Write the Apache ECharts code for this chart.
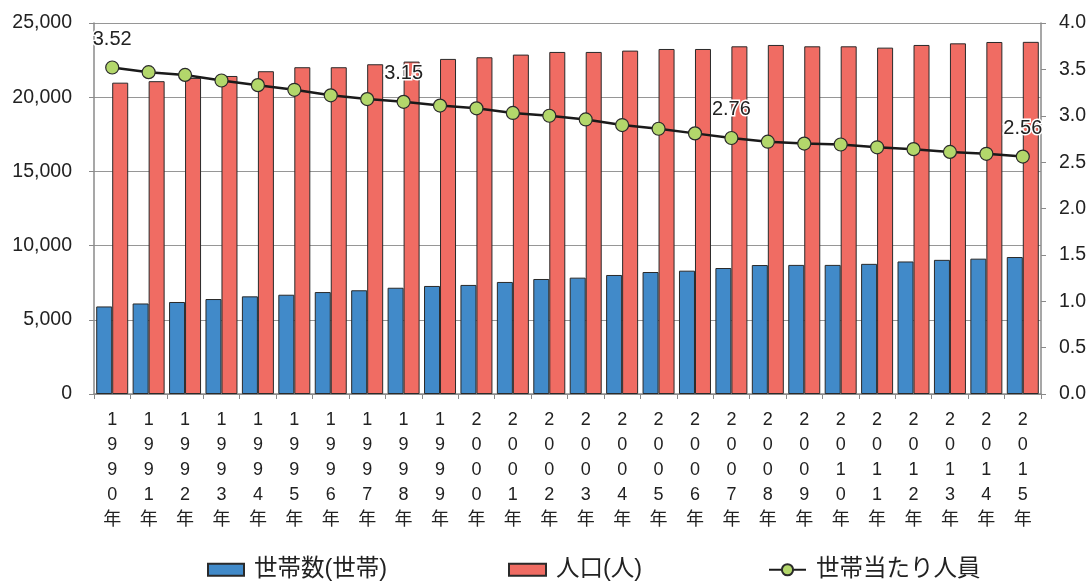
<!DOCTYPE html>
<html>
<head>
<meta charset="utf-8">
<script src="https://cdn.jsdelivr.net/npm/echarts@6/dist/echarts.min.js"></script>
<style>html,body{margin:0;padding:0;background:#fff}#c{width:1091px;height:581px}</style>
</head>
<body>
<div id="c"></div>
<script>
const categories = ['1990年','1991年','1992年','1993年','1994年','1995年','1996年','1997年','1998年','1999年','2000年','2001年','2002年','2003年','2004年','2005年','2006年','2007年','2008年','2009年','2010年','2011年','2012年','2013年','2014年','2015年'];
const households = [5900,6100,6200,6400,6580,6690,6870,6990,7160,7280,7350,7550,7750,7840,8020,8220,8310,8490,8690,8700,8700,8770,8930,9040,9120,9230];
const population = [20980,21080,21300,21430,21750,22020,22020,22220,22400,22580,22690,22870,23050,23050,23140,23250,23250,23430,23520,23430,23430,23340,23520,23630,23720,23730];
const perHousehold = [3.52,3.47,3.44,3.38,3.33,3.28,3.22,3.18,3.15,3.11,3.08,3.03,3.00,2.96,2.90,2.86,2.81,2.76,2.72,2.70,2.69,2.66,2.64,2.61,2.59,2.56];
const labeledIdx = [0,8,17,25];
const leftTicks = [0,5000,10000,15000,20000,25000];
const rightTicks = [0,0.5,1.0,1.5,2.0,2.5,3.0,3.5,4.0];
const names = ['世帯数(世帯)','人口(人)','世帯当たり人員'];

const FONT = '"Liberation Sans", "Noto Sans CJK JP", sans-serif';
const AXIS = '#8a8a8a';
const legendText = { fontSize: 23.5, color: '#222', fontFamily: FONT, padding: [0, 0, 0, 5] };
const chart = echarts.init(document.getElementById('c'));
chart.setOption({
  animation: false,
  textStyle: { fontFamily: FONT },
  grid: { left: 94, right: 50, top: 23, bottom: 187 },
  legend: [
    { data: [names[0]], left: 202, top: 553, icon: 'rect', itemWidth: 36, itemHeight: 12, textStyle: legendText },
    { data: [names[1]], left: 503, top: 553, icon: 'rect', itemWidth: 37, itemHeight: 12, textStyle: legendText },
    { data: [names[2]], left: 763, top: 553, itemWidth: 37, itemHeight: 14, textStyle: legendText }
  ],
  xAxis: {
    type: 'category',
    data: categories,
    axisLine: { lineStyle: { color: AXIS, width: 1.5 } },
    axisTick: { show: true, length: 5, lineStyle: { color: AXIS } },
    axisLabel: {
      interval: 0, margin: 14, fontSize: 18, lineHeight: 25, color: '#222',
      formatter: v => v.split('').join('\n')
    }
  },
  yAxis: [
    {
      type: 'value', min: leftTicks[0], max: leftTicks[leftTicks.length-1], interval: leftTicks[1]-leftTicks[0],
      axisLine: { show: true, lineStyle: { color: AXIS, width: 1.5 } },
      axisTick: { show: true, length: 5, lineStyle: { color: AXIS } },
      splitLine: { show: true, lineStyle: { color: '#969696', width: 1.2 } },
      axisLabel: { fontSize: 19.5, color: '#222', margin: 22, formatter: v => v.toLocaleString('en-US') }
    },
    {
      type: 'value', min: rightTicks[0], max: rightTicks[rightTicks.length-1], interval: rightTicks[1]-rightTicks[0],
      axisLine: { show: true, lineStyle: { color: AXIS, width: 1.5 } },
      axisTick: { show: true, length: 5, lineStyle: { color: AXIS } },
      splitLine: { show: false },
      axisLabel: { fontSize: 19.5, color: '#222', margin: 18, formatter: v => v.toFixed(1) }
    }
  ],
  series: [
    {
      name: names[0], type: 'bar', data: households, barWidth: 16, barGap: '0%',
      itemStyle: { color: '#418ac9', borderColor: '#2a2a2a', borderWidth: 1 }
    },
    {
      name: names[1], type: 'bar', data: population, barWidth: 16, barGap: '0%',
      itemStyle: { color: '#f06c63', borderColor: '#2a2a2a', borderWidth: 1 }
    },
    {
      name: names[2], type: 'line', yAxisIndex: 1, z: 5,
      data: perHousehold.map((v, i) => labeledIdx.includes(i)
        ? { value: v, label: { show: true } } : v),
      symbol: 'circle', symbolSize: 13,
      lineStyle: { color: '#1a1a1a', width: 2.5 },
      itemStyle: { color: '#b3d76b', borderColor: '#2a2a2a', borderWidth: 1.2 },
      label: {
        show: false, position: 'top', distance: 11, fontSize: 20, color: '#222',
        textBorderColor: '#fff', textBorderWidth: 3, fontFamily: FONT,
        formatter: p => p.value.toFixed(2)
      }
    }
  ]
});
</script>
</body>
</html>
